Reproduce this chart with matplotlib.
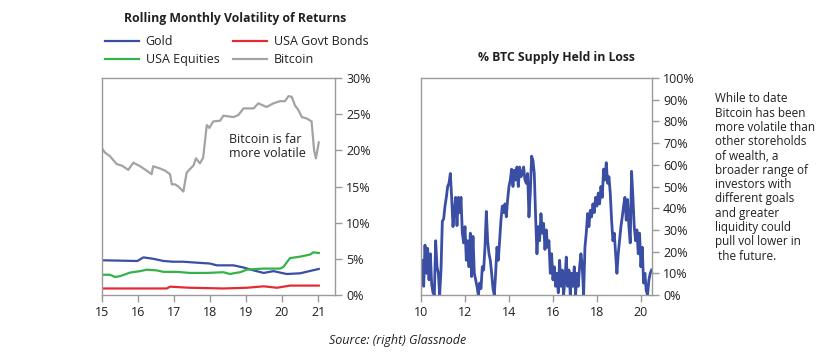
import numpy as np
import matplotlib.pyplot as plt
from matplotlib.ticker import FuncFormatter

plt.rcParams['font.family'] = ['Open Sans', 'DejaVu Sans']

# ---------------- left panel data (years since 2000, % vol) ----------------
btc_x = [15.0, 15.08, 15.22, 15.41, 15.55, 15.73, 15.87, 16.06, 16.24, 16.38,
         16.42, 16.61, 16.75, 16.89, 16.94, 17.03, 17.12, 17.26, 17.35, 17.44,
         17.54, 17.61, 17.72, 17.81, 17.91, 17.98, 18.09, 18.28, 18.37, 18.65,
         18.79, 18.93, 19.21, 19.34, 19.57, 19.76, 19.94, 20.08, 20.18, 20.27,
         20.36, 20.45, 20.55, 20.69, 20.82, 20.89, 20.94, 21.02]
btc_y = [20.3, 19.7, 19.2, 18.1, 17.9, 17.3, 18.3, 17.8, 17.2, 16.7,
         17.8, 17.5, 17.2, 16.7, 15.3, 15.3, 15.0, 14.3, 16.9, 17.4,
         17.9, 18.9, 18.2, 19.0, 23.5, 23.1, 24.0, 24.1, 24.8, 24.6,
         24.9, 25.8, 25.8, 26.5, 26.0, 26.5, 26.8, 26.8, 27.5, 27.4,
         26.2, 25.6, 24.6, 24.4, 24.0, 20.0, 18.9, 21.1]

gold_x = [15.0, 15.98, 16.15, 16.43, 16.71, 16.98, 17.26, 17.54, 18.0, 18.19,
          18.65, 18.93, 19.21, 19.49, 19.76, 20.13, 20.5, 21.02]
gold_y = [4.8, 4.7, 5.2, 5.0, 4.7, 4.6, 4.6, 4.5, 4.35, 4.1,
          4.1, 3.8, 3.4, 3.05, 3.3, 2.9, 3.0, 3.6]

eq_x = [15.0, 15.22, 15.36, 15.5, 15.78, 16.06, 16.24, 16.52, 16.71, 17.08,
        17.44, 17.91, 18.37, 18.56, 18.65, 18.84, 19.02, 19.3, 19.49, 19.95,
        20.04, 20.22, 20.5, 20.78, 20.87, 21.02]
eq_y = [2.8, 2.8, 2.5, 2.6, 3.1, 3.3, 3.5, 3.4, 3.2, 3.2,
        3.05, 3.05, 3.15, 2.9, 3.0, 3.15, 3.5, 3.6, 3.65, 3.65,
        3.9, 5.1, 5.3, 5.6, 5.9, 5.8]

bond_x = [15.0, 16.8, 16.89, 17.44, 17.91, 18.37, 19.02, 19.49, 19.86, 20.22, 21.02]
bond_y = [0.9, 0.9, 1.15, 1.0, 0.95, 0.9, 1.0, 1.2, 1.0, 1.3, 1.3]

# ---------------- right panel data (% BTC supply held in loss) ----------------
loss_pct = [8.5, 16, 4, 23, 10, 21.5, 7, 19, 5, 1,
            0, 25, 13, 10, 0, 11.5, 34, 35, 41, 45,
            50, 51.5, 56, 45, 31.5, 39, 45, 32, 45, 38,
            45, 28.5, 24, 31.5, 16, 25, 13, 28.5, 8.5, 27,
            10, 7, 4, 0, 5.5, 3, 13, 11.5, 22, 38.5,
            25, 19, 16, 10, 3, 0, 10, 22, 16, 25,
            34.5, 41, 38, 42, 36, 44, 50, 53, 58, 50,
            57.5, 53, 59, 50, 59, 54.5, 56, 59, 53, 51.5,
            56, 36, 47, 64, 62, 56, 36, 19, 31.5, 25,
            37.5, 28.5, 33, 21, 30, 22, 25, 10, 19, 7,
            13, 4, 10, 1, 16, 4, 11.5, 0, 7, 17.5,
            4, 11.5, 0, 10, 4, 13, 0, 10, 4, 13,
            19, 13, 0, 22, 28.5, 37.5, 31.5, 39, 36, 42,
            38, 45, 41, 47, 42, 50, 45, 58, 53, 61,
            51.5, 54.5, 47, 34.5, 25, 28.5, 19, 10, 19, 25,
            31.5, 36, 41, 45, 34.5, 44, 31.5, 24, 57, 45,
            31.5, 25, 30, 19, 28.5, 13, 22, 5.5, 10, 2,
            0, 7, 10, 11.5]
loss_x = np.linspace(10.0, 20.48, len(loss_pct))

side_note = ("While to date\nBitcoin has been\nmore volatile than\nother storeholds\n"
             "of wealth, a\nbroader range of\ninvestors with\ndifferent goals\n"
             "and greater\nliquidity could\npull vol lower in\n the future.")

BLUE = "#3a4ea3"
RED = "#e52b32"
GREEN = "#33b34a"
GREY = "#a3a3a3"
SPINE = "#9a9a9a"
TXT = "#231f20"

fig = plt.figure(figsize=(8.4, 3.58), dpi=100)
ax1 = fig.add_axes([0.1214, 0.176, 0.2774, 0.606])
ax2 = fig.add_axes([0.5012, 0.176, 0.275, 0.606])

pct = FuncFormatter(lambda v, p: f"{v:.0f}%")

for ax in (ax1, ax2):
    for s in ax.spines.values():
        s.set_color(SPINE)
        s.set_linewidth(1.0)
    ax.yaxis.tick_right()
    ax.tick_params(axis="both", direction="out", color=SPINE, length=5,
                   width=1.0, labelsize=9, labelcolor=TXT, pad=3)
    ax.yaxis.set_major_formatter(pct)

# left chart
ax1.plot(gold_x, gold_y, color=BLUE, lw=1.6, label="Gold")
ax1.plot(bond_x, bond_y, color=RED, lw=1.6, label="USA Govt Bonds")
ax1.plot(eq_x, eq_y, color=GREEN, lw=1.6, label="USA Equities")
ax1.plot(btc_x, btc_y, color=GREY, lw=1.6, label="Bitcoin")
ax1.set_xlim(15, 21.47)
ax1.set_ylim(0, 30)
ax1.set_xticks(range(15, 22))
ax1.set_xticklabels([str(v) for v in range(15, 22)])
ax1.set_yticks(range(0, 31, 5))
ax1.text(18.52, 22.4, "Bitcoin is far\nmore volatile", fontsize=9, color=TXT,
         va="top", ha="left", linespacing=1.1)

h, l = ax1.get_legend_handles_labels()
order = [0, 2, 1, 3]
fig.legend([h[i] for i in order], [l[i] for i in order], ncol=2, frameon=False,
           loc="upper left", bbox_to_anchor=(0.125, 0.902), fontsize=9,
           handlelength=2.7, handletextpad=0.55, columnspacing=1.1,
           labelspacing=0.4, borderpad=0, borderaxespad=0, labelcolor=TXT)

fig.text(0.28, 0.948, "Rolling Monthly Volatility of Returns", ha="center",
         va="center", fontsize=8.8, fontweight="bold", color=TXT)

# right chart
ax2.plot(loss_x, loss_pct, color=BLUE, lw=2.0)
ax2.set_xlim(10, 20.5)
ax2.set_ylim(0, 100)
ax2.set_xticks(range(10, 21, 2))
ax2.set_yticks(range(0, 101, 10))
fig.text(0.663, 0.84, "% BTC Supply Held in Loss", ha="center", va="center",
         fontsize=8.8, fontweight="bold", color=TXT)

fig.text(0.851, 0.742, side_note, ha="left", va="top", fontsize=8.5,
         color=TXT, linespacing=1.13)

fig.text(0.473, 0.05, "Source: (right) Glassnode", ha="center", va="center",
         fontsize=9, style="italic", color=TXT)

fig.savefig("out.png", dpi=100, facecolor="white")
